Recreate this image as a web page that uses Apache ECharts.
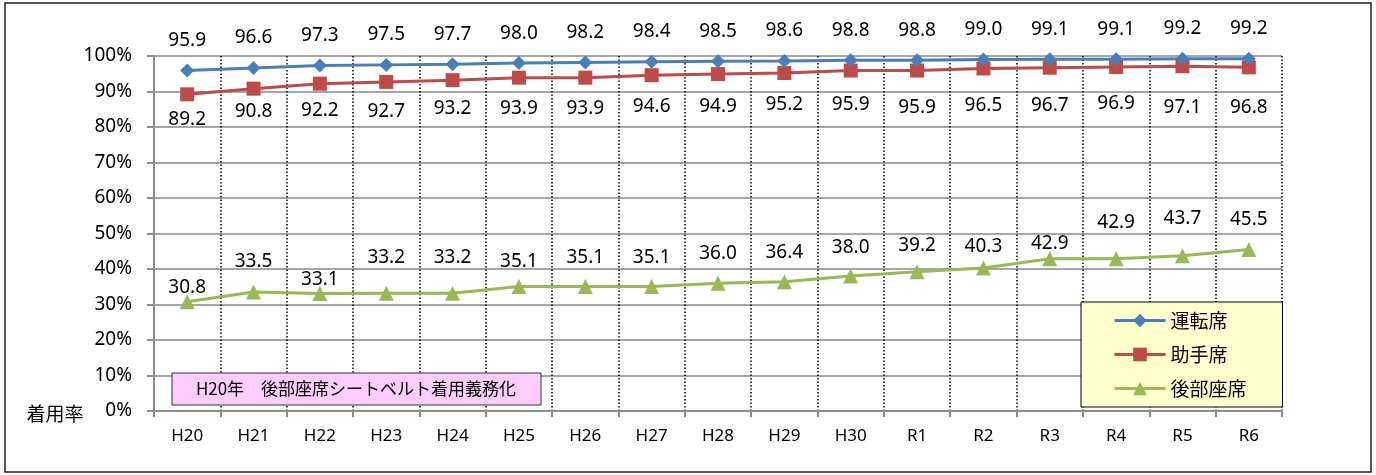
<!DOCTYPE html>
<html lang="ja">
<head>
<meta charset="UTF-8">
<title>シートベルト着用率</title>
<script src="https://cdn.jsdelivr.net/npm/echarts@6/dist/echarts.min.js"></script>
<style>
  html, body { margin: 0; padding: 0; background: #fff; }
  #main { width: 1376px; height: 475px; }
</style>
</head>
<body>
<div id="main"></div>
<script>
    // 年度
    var years = ['H20', 'H21', 'H22', 'H23', 'H24', 'H25', 'H26', 'H27', 'H28', 'H29', 'H30', 'R1', 'R2', 'R3', 'R4', 'R5', 'R6'];
    // 着用率 (%)
    var driver = [95.9, 96.6, 97.3, 97.5, 97.7, 98.0, 98.2, 98.4, 98.5, 98.6, 98.8, 98.8, 99.0, 99.1, 99.1, 99.2, 99.2];
    var passenger = [89.2, 90.8, 92.2, 92.7, 93.2, 93.9, 93.9, 94.6, 94.9, 95.2, 95.9, 95.9, 96.5, 96.7, 96.9, 97.1, 96.8];
    var rear = [30.8, 33.5, 33.1, 33.2, 33.2, 35.1, 35.1, 35.1, 36.0, 36.4, 38.0, 39.2, 40.3, 42.9, 42.9, 43.7, 45.5];
    var yTicks = [0, 10, 20, 30, 40, 50, 60, 70, 80, 90, 100];

    // ラベル位置の調整量(px) 元図の手動配置に合わせる
    var passengerDrop = [25, 23, 27, 30, 28, 31, 31, 31, 32, 32, 34, 37, 37, 38, 37, 41, 40];
    var rearLift = [14, 30, 14, 36, 36, 25, 29, 29, 30, 29, 29, 26, 21, 15, 36, 37, 30];

    var txtFont = '"Noto Sans", "Noto Sans CJK JP", sans-serif';
    var jpFont = '"Noto Sans CJK JP", sans-serif';

    var myChart = echarts.init(document.getElementById('main'));

    var passengerData = passenger.map(function (v, i) {
        return { value: v, label: { offset: [0, passengerDrop[i]] } };
    });
    var rearData = rear.map(function (v, i) {
        return { value: v, label: { offset: [0, -rearLift[i]] } };
    });

    function fmt(p) {
        return p.value.toFixed(1);
    }

    var option = {
        backgroundColor: '#fff',
        animation: false,
        grid: { left: 154, right: 94, top: 56, bottom: 64 },
        legend: {
            orient: 'vertical',
            left: 1081,
            top: 302,
            backgroundColor: '#ffffcc',
            borderColor: '#000',
            borderWidth: 1,
            borderRadius: 0,
            padding: [9, 36, 9, 32],
            itemWidth: 51,
            itemHeight: 17,
            itemGap: 15,
            lineStyle: { width: 3 },
            textStyle: { fontFamily: jpFont, fontSize: 19, color: '#000' },
            data: ['運転席', '助手席', '後部座席']
        },
        xAxis: {
            type: 'category',
            data: years,
            boundaryGap: true,
            axisLine: { lineStyle: { color: '#8c8c8c', width: 2 } },
            axisTick: { show: true, length: 6, lineStyle: { color: '#8c8c8c', width: 2 } },
            axisLabel: { fontFamily: txtFont, fontSize: 17, color: '#000', margin: 17 },
            splitLine: { show: true, lineStyle: { color: '#000', type: [1.5, 2], width: 1.5 } }
        },
        yAxis: {
            type: 'value',
            min: yTicks[0],
            max: yTicks[yTicks.length - 1],
            interval: 10,
            axisLine: { show: true, lineStyle: { color: '#8c8c8c', width: 2 } },
            axisTick: { show: true, length: 7, lineStyle: { color: '#8c8c8c', width: 2 } },
            axisLabel: { fontFamily: txtFont, fontSize: 19, color: '#000', margin: 22, formatter: '{value}%' },
            splitLine: { show: true, lineStyle: { color: '#a6a6a6', width: 2 } }
        },
        series: [
            {
                name: '運転席',
                type: 'line',
                data: driver,
                symbol: 'diamond',
                symbolSize: 14,
                itemStyle: { color: '#4a7ebb' },
                lineStyle: { color: '#4a7ebb', width: 3 },
                label: {
                    show: true, position: 'inside', offset: [0, -30],
                    fontFamily: txtFont, fontSize: 19, color: '#000', formatter: fmt
                },
                z: 4
            },
            {
                name: '助手席',
                type: 'line',
                data: passengerData,
                symbol: 'rect',
                symbolSize: 14,
                itemStyle: { color: '#be4b48' },
                lineStyle: { color: '#be4b48', width: 3 },
                label: {
                    show: true, position: 'inside',
                    fontFamily: txtFont, fontSize: 19, color: '#000', formatter: fmt
                },
                z: 3
            },
            {
                name: '後部座席',
                type: 'line',
                data: rearData,
                symbol: 'triangle',
                symbolSize: 15,
                itemStyle: { color: '#98b954' },
                lineStyle: { color: '#98b954', width: 3 },
                label: {
                    show: true, position: 'inside',
                    fontFamily: txtFont, fontSize: 19, color: '#000', formatter: fmt
                },
                z: 2
            }
        ],
        graphic: [
            {
                type: 'rect',
                shape: { x: 5, y: 3, width: 1366, height: 469 },
                style: { fill: 'none', stroke: '#222', lineWidth: 1.5 },
                silent: true, z: 0
            },
            {
                type: 'rect',
                shape: { x: 172, y: 373, width: 369, height: 32 },
                style: { fill: '#ffccff', stroke: '#333', lineWidth: 1 },
                z: 10
            },
            {
                type: 'text',
                x: 356, y: 389,
                style: {
                    text: 'H20年　後部座席シートベルト着用義務化',
                    fontFamily: jpFont, fontSize: 17, fill: '#000',
                    align: 'center', verticalAlign: 'middle'
                },
                z: 11
            },
            {
                type: 'text',
                x: 55, y: 414,
                style: {
                    text: '着用率',
                    fontFamily: jpFont, fontSize: 19, fill: '#000',
                    align: 'center', verticalAlign: 'middle'
                },
                z: 11
            }
        ]
    };

    myChart.setOption(option);
</script>
</body>
</html>
